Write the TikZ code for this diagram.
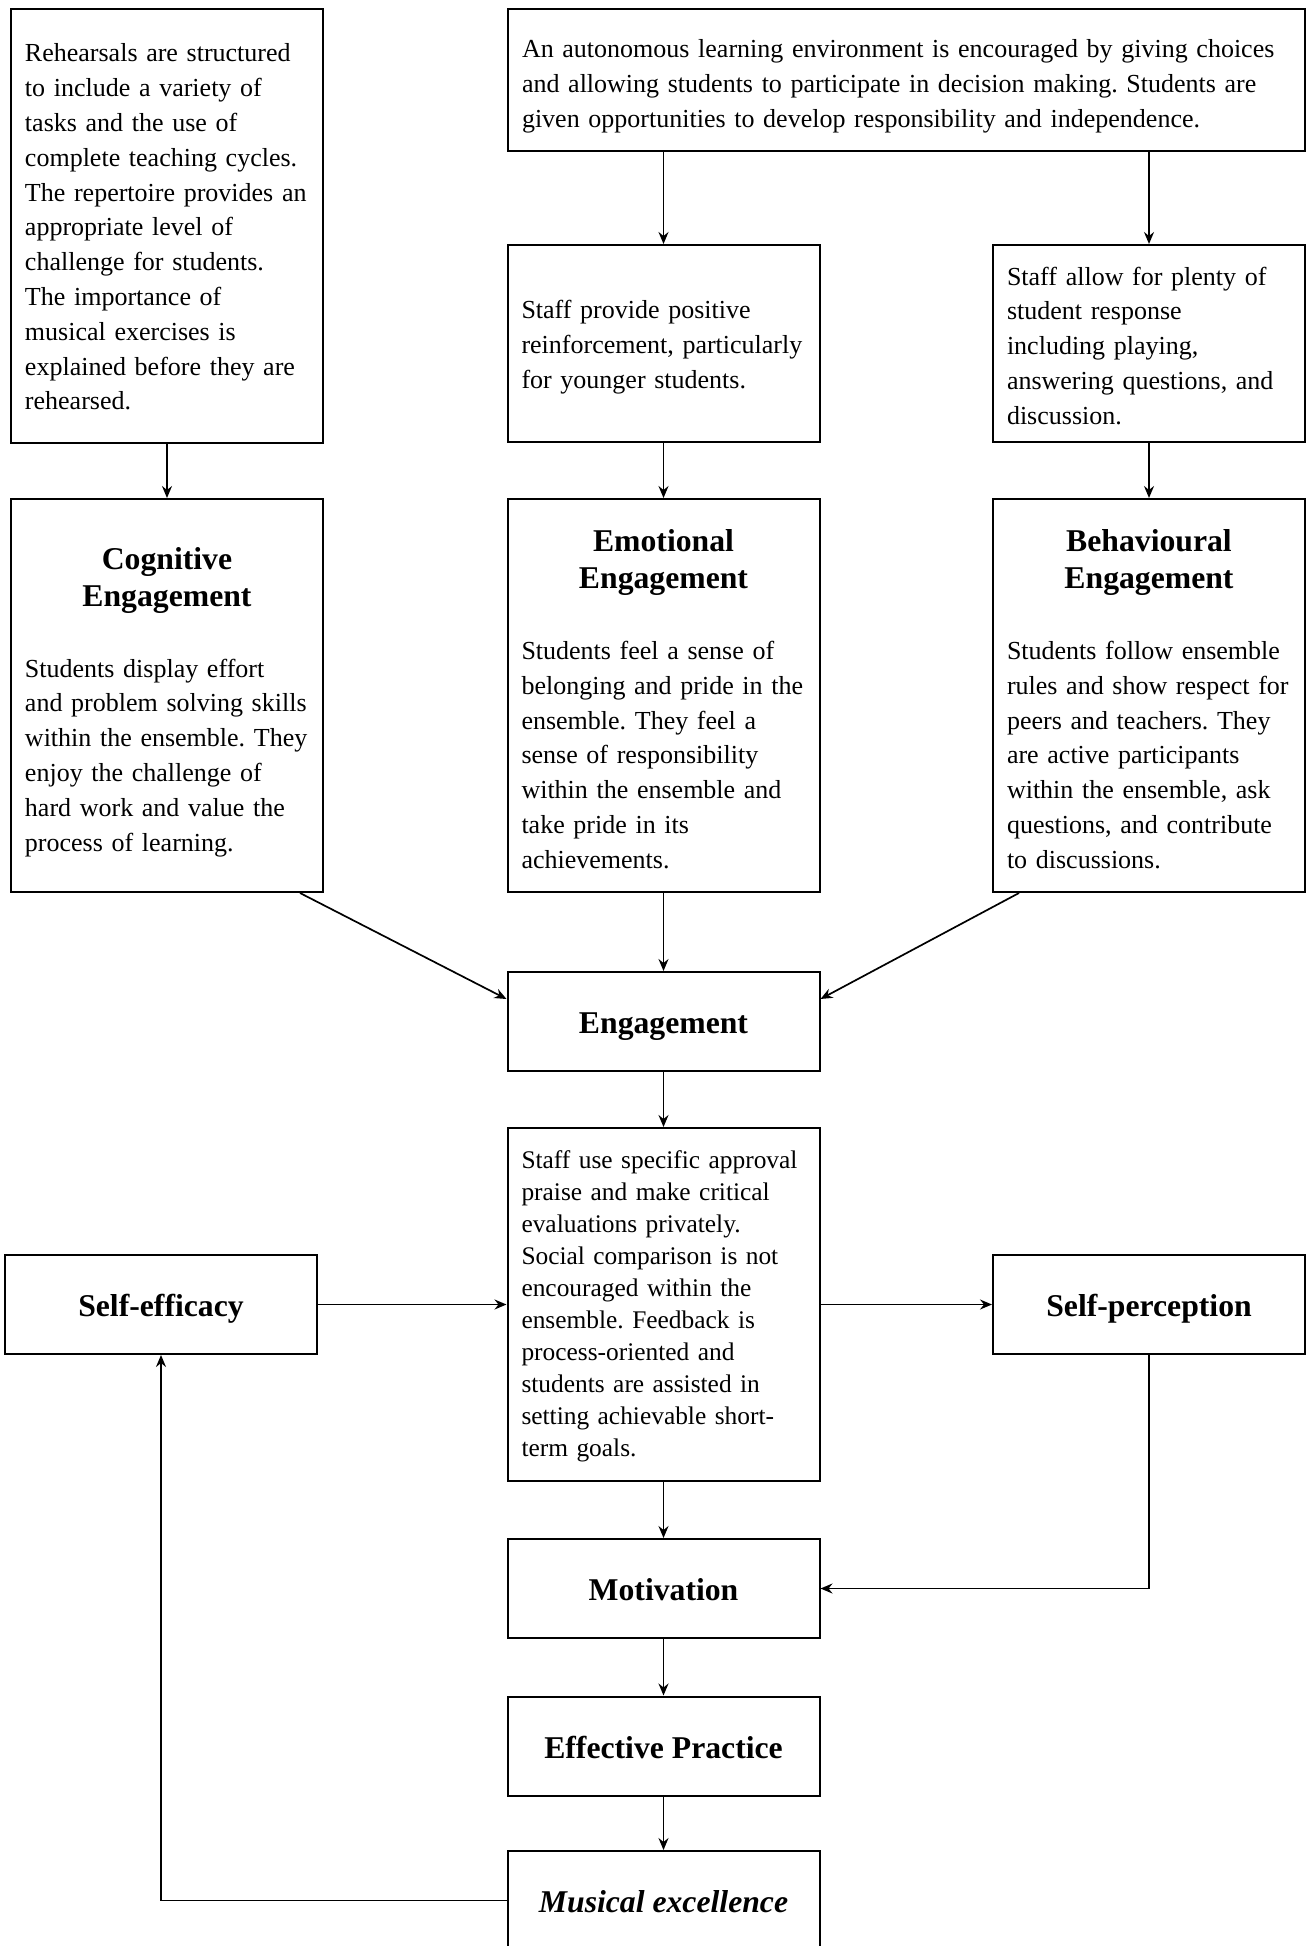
\documentclass[tikz,border=0pt]{standalone}
\usepackage{fontspec}
\setmainfont{Liberation Serif}
\usetikzlibrary{arrows.meta}
\newcommand{\hdfont}{\bfseries\fontsize{15.85}{18.6}\selectfont}
\newcommand{\topstrut}[1]{\rule{0pt}{#1}}
\tikzset{
  box/.style={draw, line width=1pt, rectangle, inner xsep=7pt, inner ysep=0pt,
    text width=142pt, font=\fontsize{13}{17.4}\selectfont,
    execute at begin node={\frenchspacing\parindent=0pt\rightskip=-15pt plus 1fil\relax}},
  lbl/.style={draw, line width=1pt, rectangle, minimum width=156pt,
    minimum height=49.5pt, inner sep=0pt, text height=12pt, text depth=0pt,
    font=\bfseries\fontsize{15.85}{18.6}\selectfont},
  arr/.style={line width=0.85pt, -{Stealth[length=6pt,width=5pt,inset=2pt]}}
}
\begin{document}
\begin{tikzpicture}[x=0.5pt,y=-0.5pt]
\useasboundingbox (0,0) rectangle (1307,1946);

\node[box, minimum height=217pt] (rehearse) at (167,226) {\topstrut{10.1pt}Rehearsals are structured\\
to include a variety of\\
tasks and the use of\\
complete teaching cycles.\\
The repertoire provides an\\
appropriate level of\\
challenge for students.\\
The importance of\\
musical exercises is\\
explained before they are\\
rehearsed.};

\node[box, text width=384.5pt, minimum height=71pt] (auto) at (906.5,80) {\topstrut{15.1pt}An autonomous learning environment is encouraged by giving choices\\
and allowing students to participate in decision making. Students are\\
given opportunities to develop responsibility and independence.};

\node[box, minimum height=98.5pt] (provide) at (663.5,343.5) {\topstrut{12.7pt}Staff provide positive\\
reinforcement, particularly\\
for younger students.};

\node[box, minimum height=98.5pt] (allow) at (1149,343.5) {\topstrut{11.4pt}Staff allow for plenty of\\
student response\\
including playing,\\
answering questions, and\\
discussion.};

\node[box, minimum height=196.5pt] (cog) at (167,695.5) {{\centering\hdfont\topstrut{17.5pt}Cognitive\\Engagement\par}\vspace{18pt}Students display effort\\
and problem solving skills\\
within the ensemble. They\\
enjoy the challenge of\\
hard work and value the\\
process of learning.};

\node[box, minimum height=196.5pt] (emo) at (663.5,695.5) {{\centering\hdfont\topstrut{14.5pt}Emotional\\Engagement\par}\vspace{18pt}Students feel a sense of\\
belonging and pride in the\\
ensemble. They feel a\\
sense of responsibility\\
within the ensemble and\\
take pride in its\\
achievements.};

\node[box, minimum height=196.5pt] (beh) at (1149,695.5) {{\centering\hdfont\topstrut{14.5pt}Behavioural\\Engagement\par}\vspace{18pt}Students follow ensemble\\
rules and show respect for\\
peers and teachers. They\\
are active participants\\
within the ensemble, ask\\
questions, and contribute\\
to discussions.};

\node[lbl] (engage) at (663.5,1021.5) {Engagement};

\node[box, minimum height=176.5pt, font=\fontsize{12.7}{16}\selectfont] (staffuse) at (663.5,1304.5) {\topstrut{10.5pt}Staff use specific approval\\
praise and make critical\\
evaluations privately.\\
Social comparison is not\\
encouraged within the\\
ensemble. Feedback is\\
process-oriented and\\
students are assisted in\\
setting achievable short-\\
term goals.};

\node[lbl] (selfeff) at (161,1304.5) {Self-efficacy};
\node[lbl] (selfperc) at (1149,1304.5) {Self-perception};
\node[lbl] (motiv) at (663.5,1588.5) {Motivation};
\node[lbl] (effprac) at (663.5,1746) {Effective Practice};
\node[lbl, font=\bfseries\itshape\fontsize{15.85}{18.6}\selectfont] (musex) at (663.5,1900.5) {Musical excellence};

\draw[arr] (rehearse.south) -- (cog.north);
\draw[arr] (provide.north |- auto.south) -- (provide.north);
\draw[arr] (allow.north |- auto.south) -- (allow.north);
\draw[arr] (provide.south) -- (emo.north);
\draw[arr] (allow.south) -- (beh.north);
\draw[arr] ([xshift=-12pt]cog.south east) -- ([yshift=-14pt]engage.north west);
\draw[arr] (emo.south) -- (engage.north);
\draw[arr] ([xshift=13.5pt]beh.south west) -- ([yshift=-14pt]engage.north east);
\draw[arr] (engage.south) -- (staffuse.north);
\draw[arr] (selfeff.east) -- (staffuse.west);
\draw[arr] (staffuse.east) -- (selfperc.west);
\draw[arr] (staffuse.south) -- (motiv.north);
\draw[arr] (selfperc.south) |- (motiv.east);
\draw[arr] (motiv.south) -- (effprac.north);
\draw[arr] (effprac.south) -- (musex.north);
\draw[arr] (musex.west) -| (selfeff.south);
\end{tikzpicture}
\end{document}
